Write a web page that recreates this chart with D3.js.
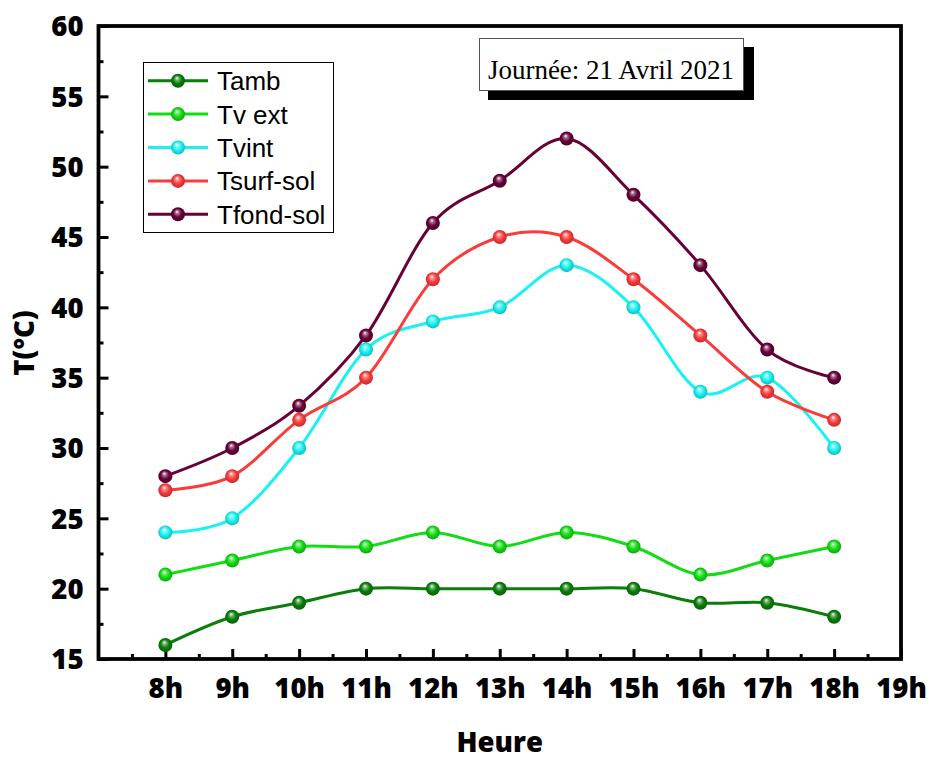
<!DOCTYPE html>
<html>
<head>
<meta charset="utf-8">
<script src="https://cdn.jsdelivr.net/npm/d3@7"></script>
<style>
  html, body { margin: 0; padding: 0; background: #fff; }
  svg { display: block; }
</style>
</head>
<body>
<svg id="chart" width="929" height="762"></svg>
<script>
// Hourly readings, 21 April 2021
const hours = [8, 9, 10, 11, 12, 13, 14, 15, 16, 17, 18];
const hourTicks = [8, 9, 10, 11, 12, 13, 14, 15, 16, 17, 18, 19];
const tempTicks = [15, 20, 25, 30, 35, 40, 45, 50, 55, 60];

const seriesNames = ["Tamb", "Tv ext", "Tvint", "Tsurf-sol", "Tfond-sol"];
const tAmb      = [16, 18, 19, 20, 20, 20, 20, 20, 19, 19, 18];
const tVext     = [21, 22, 23, 23, 24, 23, 24, 23, 21, 22, 23];
const tVint     = [24, 25, 30, 37, 39, 40, 43, 40, 34, 35, 30];
const tSurfSol  = [27, 28, 32, 35, 42, 45, 45, 42, 38, 34, 32];
const tFondSol  = [28, 30, 33, 38, 46, 49, 52, 48, 43, 37, 35];
const seriesColors = ["#0a7d0a", "#12dc12", "#19f2f2", "#fb3b3b", "#680038"];

const series = [tAmb, tVext, tVint, tSurfSol, tFondSol].map((vals, i) => ({
  name: seriesNames[i],
  color: seriesColors[i],
  points: hours.map((h, j) => ({ h, v: vals[j] }))
}));

const svg = d3.select("#chart");
const plotLeft = 98.5, plotRight = 901, plotTop = 26, plotBottom = 659;

const x = d3.scaleLinear().domain([7, 19]).range([plotLeft, plotRight]);
const y = d3.scaleLinear().domain([15, 60]).range([plotBottom, plotTop]);

const labelFont = "'Open Sans', 'DejaVu Sans', sans-serif";

// Glossy sphere gradients for the markers
const defs = svg.append("defs");
series.forEach((s, i) => {
  const c = d3.color(s.color);
  const g = defs.append("radialGradient")
    .attr("id", "ball" + i)
    .attr("cx", "50%").attr("cy", "50%").attr("r", "55%")
    .attr("fx", "42%").attr("fy", "30%");
  g.append("stop").attr("offset", "0%").attr("stop-color", "#ffffff");
  g.append("stop").attr("offset", "22%").attr("stop-color", d3.interpolateRgb("#ffffff", s.color)(0.55));
  g.append("stop").attr("offset", "55%").attr("stop-color", s.color);
  g.append("stop").attr("offset", "100%").attr("stop-color", c.darker(0.9).formatHex());
});

// Minor ticks (half hours / half steps)
const minorX = d3.range(7.5, 19, 1);
const minorY = d3.range(17.5, 60, 5);

svg.append("g")
  .attr("transform", `translate(0,${plotBottom})`)
  .call(d3.axisBottom(x).tickValues(minorX).tickFormat("").tickSizeInner(-5).tickSizeOuter(0))
  .call(g => g.select(".domain").remove())
  .call(g => g.selectAll("line").attr("stroke", "#000").attr("stroke-width", 3));

svg.append("g")
  .attr("transform", `translate(${plotLeft},0)`)
  .call(d3.axisLeft(y).tickValues(minorY).tickFormat("").tickSizeInner(-5).tickSizeOuter(0))
  .call(g => g.select(".domain").remove())
  .call(g => g.selectAll("line").attr("stroke", "#000").attr("stroke-width", 3));

// Major ticks with labels
svg.append("g")
  .attr("transform", `translate(0,${plotBottom})`)
  .call(d3.axisBottom(x).tickValues(hourTicks).tickFormat(d => d + "h")
    .tickSizeInner(-10).tickSizeOuter(0).tickPadding(0))
  .call(g => g.select(".domain").remove())
  .call(g => g.selectAll("line").attr("stroke", "#000").attr("stroke-width", 3))
  .call(g => g.selectAll("text")
    .attr("y", 39).attr("dy", null)
    .attr("fill", "#000")
    .style("font-family", labelFont).style("font-weight", "800").style("font-size", "27.5px"));

svg.append("g")
  .attr("transform", `translate(${plotLeft},0)`)
  .call(d3.axisLeft(y).tickValues(tempTicks).tickSizeInner(-10).tickSizeOuter(0).tickPadding(0))
  .call(g => g.select(".domain").remove())
  .call(g => g.selectAll("line").attr("stroke", "#000").attr("stroke-width", 3))
  .call(g => g.selectAll("text")
    .attr("x", -15).attr("dy", "0.36em")
    .attr("fill", "#000")
    .style("font-family", labelFont).style("font-weight", "800").style("font-size", "27.5px"));

// Plot frame
svg.append("rect")
  .attr("x", plotLeft).attr("y", plotTop)
  .attr("width", plotRight - plotLeft).attr("height", plotBottom - plotTop)
  .attr("fill", "none").attr("stroke", "#000").attr("stroke-width", 3.8);

// Axis titles
svg.append("text")
  .attr("x", (plotLeft + plotRight) / 2).attr("y", 752)
  .attr("text-anchor", "middle")
  .style("font-family", labelFont).style("font-weight", "800").style("font-size", "27.5px")
  .text("Heure");

svg.append("text")
  .attr("transform", "translate(34,343) rotate(-90)")
  .attr("text-anchor", "middle")
  .style("font-family", labelFont).style("font-weight", "800").style("font-size", "27.5px")
  .text("T(°C)");

// Smoothed series lines and markers
const line = d3.line()
  .x(d => x(d.h)).y(d => y(d.v))
  .curve(d3.curveCardinal.tension(0));

const plot = svg.append("g");
series.forEach((s, i) => {
  const g = plot.append("g");
  g.append("path")
    .datum(s.points)
    .attr("d", line)
    .attr("fill", "none")
    .attr("stroke", s.color)
    .attr("stroke-width", 3);
  g.selectAll("circle")
    .data(s.points)
    .join("circle")
    .attr("cx", d => x(d.h)).attr("cy", d => y(d.v))
    .attr("r", 7)
    .attr("fill", `url(#ball${i})`);
});

// Legend
const legend = svg.append("g");
legend.append("rect")
  .attr("x", 143.5).attr("y", 62.5).attr("width", 190).attr("height", 170)
  .attr("fill", "#fff").attr("stroke", "#000").attr("stroke-width", 1);
series.forEach((s, i) => {
  const ry = 80.7 + i * 33.4;
  legend.append("line")
    .attr("x1", 148).attr("x2", 208).attr("y1", ry).attr("y2", ry)
    .attr("stroke", s.color).attr("stroke-width", 3);
  legend.append("circle")
    .attr("cx", 178).attr("cy", ry).attr("r", 7)
    .attr("fill", `url(#ball${i})`);
  legend.append("text")
    .attr("x", 217).attr("y", ry + 9.5)
    .style("font-family", "'Liberation Sans', Arial, sans-serif")
    .style("font-size", "26px")
    .text(s.name);
});

// Date caption with drop shadow
const note = svg.append("g");
note.append("rect")
  .attr("x", 488).attr("y", 47).attr("width", 266).attr("height", 53)
  .attr("fill", "#000");
note.append("rect")
  .attr("x", 479.5).attr("y", 38.5).attr("width", 264).attr("height", 52)
  .attr("fill", "#fff").attr("stroke", "#555").attr("stroke-width", 1);
note.append("text")
  .attr("x", 611).attr("y", 79)
  .attr("text-anchor", "middle")
  .style("font-family", "'Liberation Serif', 'Times New Roman', serif")
  .style("font-size", "27px")
  .text("Journée: 21 Avril 2021");
</script>
</body>
</html>
